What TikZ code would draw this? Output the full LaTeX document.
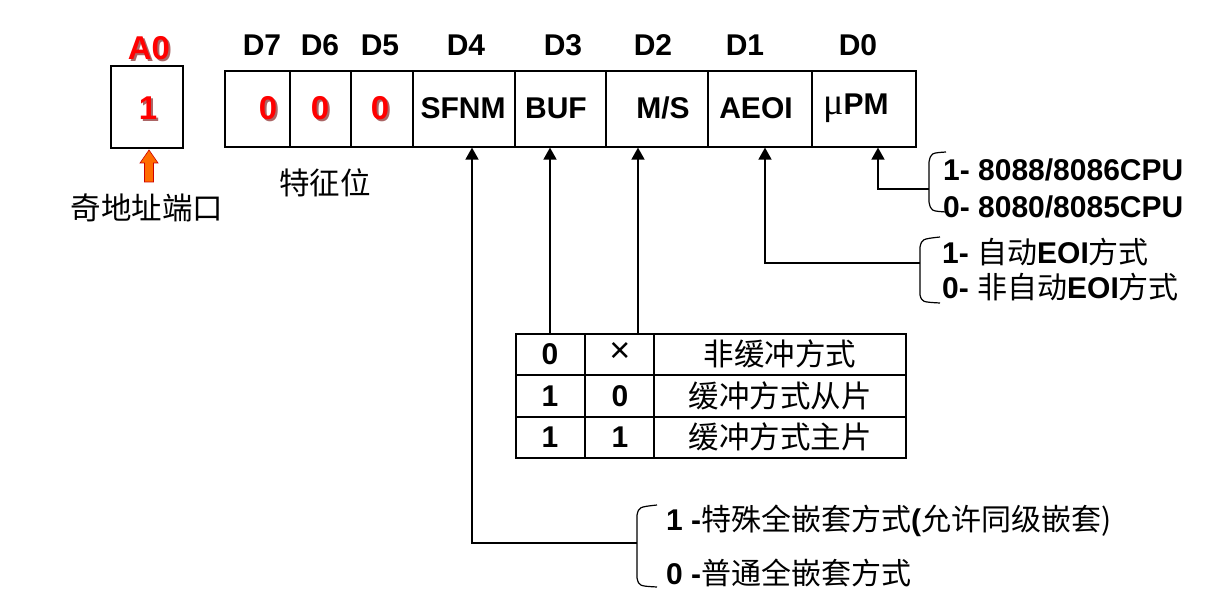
\documentclass[tikz,border=0pt]{standalone}
\usepackage{fontspec}
\setmainfont{Liberation Sans}
\newfontfamily\cjk{Noto Sans CJK SC}
\newfontfamily\serifmu{Liberation Serif}
\usetikzlibrary{arrows.meta}
\newcommand{\zh}[1]{{\cjk\mdseries #1}}
\tikzset{
  lw/.style={line width=1.6pt},
  cell/.style={draw, lw, rectangle, inner sep=0pt, anchor=north west, minimum height=76pt},
  bl/.style={font=\fontsize{30}{32}\selectfont\bfseries, inner sep=0pt},
  rd/.style={font=\fontsize{33}{35}\selectfont\bfseries, text=red, inner sep=0pt},
  sh/.style={font=\fontsize{33}{35}\selectfont\bfseries, text=red!45!black, opacity=0.6, inner sep=0pt},
  zhtxt/.style={font=\fontsize{30.5}{32}\selectfont\cjk, inner sep=0pt},
  arr/.style={lw, -{Triangle[width=13pt,length=12pt]}},
  ln/.style={lw},
  brk/.style={line width=1.2pt}
}
\begin{document}
\begin{tikzpicture}[x=1pt,y=-1pt]
\useasboundingbox (0,0) rectangle (1227,615);
\fill[white] (0,0) rectangle (1227,615);

% A0 box
\node[sh] (a0s) at (151,50) {A0};
\node[rd] (a0l) at (149,48) {A0};
\node[draw, lw, minimum width=72pt, minimum height=82pt, inner sep=0pt, anchor=north west] (a0) at (110,65) {};
\node[sh] (ones) at (150,110) {1};
\node[rd] (one) at (148,108) {1};
\path[fill=orange!85!red, draw=red!80!black, line width=0.6pt]
  (149,150) -- (158,163) -- (153.5,163) -- (153.5,182) -- (144.5,182) -- (144.5,163) -- (140,163) -- cycle;
\node[zhtxt] (odd) at (147,208) {奇地址端口};

% register cells
\node[cell, minimum width=65pt]  (c7) at (224,70) {};
\node[cell, minimum width=61pt]  (c6) at (289,70) {};
\node[cell, minimum width=62pt]  (c5) at (350,70) {};
\node[cell, minimum width=102pt] (c4) at (412,70) {};
\node[cell, minimum width=91pt]  (c3) at (514,70) {};
\node[cell, minimum width=102pt] (c2) at (605,70) {};
\node[cell, minimum width=104pt] (c1) at (707,70) {};
\node[cell, minimum width=104pt] (c0) at (811,70) {};

% bit labels
\node[bl] (d7) at (262,45) {D7};
\node[bl] (d6) at (320,45) {D6};
\node[bl] (d5) at (380,45) {D5};
\node[bl] (d4) at (466,45) {D4};
\node[bl] (d3) at (563,45) {D3};
\node[bl] (d2) at (653,45) {D2};
\node[bl] (d1) at (745,45) {D1};
\node[bl] (d0) at (858,45) {D0};

% cell contents
\node[sh] (z7s) at (270,110) {0};
\node[rd] (z7) at (268,108) {0};
\node[sh] (z6s) at (322,110) {0};
\node[rd] (z6) at (320,108) {0};
\node[sh] (z5s) at (382,110) {0};
\node[rd] (z5) at (380,108) {0};
\node[bl] (t4) at (463,108) {SFNM};
\node[bl] (t3) at (556,108) {BUF};
\node[bl] (t2) at (663,108) {M/S};
\node[bl] (t1) at (756,108) {AEOI};
\node[bl] (t0) at (856,108) {{\serifmu\mdseries\fontsize{38}{38}\selectfont μ}PM};

\node[zhtxt] (feat) at (325,183) {特征位};

% D0 connector
\coordinate (b0) at (929,189);
\coordinate (k0) at (878,189);
\draw[arr] (b0) -- (k0) -- (k0 |- c0.south);
\draw[brk] (946,152) .. controls (931,153) .. (929,162) -- (929,202) .. controls (931,211) .. (946,212);
\node[bl, anchor=west] (cpu1) at (943,170) {1- 8088/8086CPU};
\node[bl, anchor=west] (cpu0) at (943,207) {0- 8080/8085CPU};

% D1 connector
\coordinate (b1) at (920,263);
\coordinate (k1) at (765,263);
\draw[arr] (b1) -- (k1) -- (k1 |- c1.south);
\draw[brk] (940,237) .. controls (922,239) .. (920,247) -- (920,295) .. controls (922,302) .. (940,303);
\node[bl, anchor=west] (eoi1) at (942,252) {1- \zh{自动}EOI\zh{方式}};
\node[bl, anchor=west] (eoi0) at (942,287) {0- \zh{非自动}EOI\zh{方式}};

% table
\node[draw, lw, minimum width=390pt, minimum height=124pt, inner sep=0pt, anchor=north west] (tbl) at (515,333) {};
\draw[ln] (585,333) -- (585,457);
\draw[ln] (654,333) -- (654,457);
\draw[ln] (515,375) -- (905,375);
\draw[ln] (515,417) -- (905,417);
\node[bl] (r1a) at (550,354) {0};
\node[font=\fontsize{36}{36}\selectfont, inner sep=0pt] (r1b) at (620,352) {×};
\node[zhtxt] (r1c) at (780,354) {非缓冲方式};
\node[bl] (r2a) at (550,396) {1};
\node[bl] (r2b) at (620,396) {0};
\node[zhtxt] (r2c) at (780,396) {缓冲方式从片};
\node[bl] (r3a) at (550,437) {1};
\node[bl] (r3b) at (620,437) {1};
\node[zhtxt] (r3c) at (780,437) {缓冲方式主片};

% D3, D2 connectors
\coordinate (k3) at (550,333);
\coordinate (k2) at (638,333);
\draw[arr] (k3) -- (k3 |- c3.south);
\draw[arr] (k2) -- (k2 |- c2.south);

% D4 connector
\coordinate (b4) at (637,543);
\coordinate (k4) at (472,543);
\draw[arr] (b4) -- (k4) -- (k4 |- c4.south);
\draw[brk] (657,505) .. controls (639,507) .. (637,515) -- (637,578) .. controls (639,586) .. (657,587);
\node[bl, anchor=west] (sf1) at (666,521) {1 -\zh{特殊全嵌套方式}(\zh{允许同级嵌套)}};
\node[bl, anchor=west] (sf0) at (666,573) {0 -\zh{普通全嵌套方式}};
\end{tikzpicture}
\end{document}
